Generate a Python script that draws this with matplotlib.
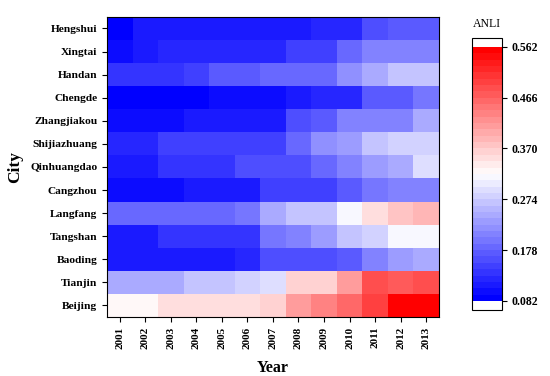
#
# anli_heatmap.py
#   - ANLI by city and year, drawn as a blue-white-red heatmap.
#

import numpy as np
import matplotlib
matplotlib.use("Agg")
import matplotlib.pyplot as plt
from matplotlib.colors import ListedColormap, Normalize

plt.rcParams["font.family"] = ["Liberation Serif", "DejaVu Serif"]

years = [str(y) for y in range(2001, 2014)]
cities = ["Hengshui", "Xingtai", "Handan", "Chengde", "Zhangjiakou", "Shijiazhuang",
          "Qinhuangdao", "Cangzhou", "Langfang", "Tangshan", "Baoding", "Tianjin", "Beijing"]

hengshui = [0.082, 0.110, 0.110, 0.110, 0.110, 0.116, 0.116, 0.116, 0.130, 0.130, 0.162, 0.177, 0.177]
xingtai = [0.097, 0.117, 0.127, 0.127, 0.127, 0.127, 0.127, 0.146, 0.146, 0.180, 0.210, 0.210, 0.210]
handan = [0.132, 0.132, 0.132, 0.147, 0.167, 0.167, 0.182, 0.182, 0.182, 0.225, 0.243, 0.263, 0.263]
chengde = [0.082, 0.082, 0.082, 0.082, 0.102, 0.102, 0.102, 0.117, 0.127, 0.127, 0.177, 0.177, 0.192]
zhangjiakou = [0.102, 0.102, 0.102, 0.112, 0.112, 0.112, 0.112, 0.157, 0.171, 0.202, 0.202, 0.214, 0.248]
shijiazhuang = [0.127, 0.127, 0.147, 0.147, 0.147, 0.147, 0.147, 0.182, 0.218, 0.233, 0.267, 0.282, 0.282]
qinhuangdao = [0.117, 0.117, 0.137, 0.137, 0.137, 0.157, 0.157, 0.157, 0.183, 0.212, 0.229, 0.248, 0.297]
cangzhou = [0.097, 0.097, 0.097, 0.114, 0.114, 0.114, 0.144, 0.144, 0.144, 0.172, 0.192, 0.207, 0.207]
langfang = [0.182, 0.182, 0.182, 0.182, 0.182, 0.197, 0.248, 0.267, 0.267, 0.313, 0.351, 0.372, 0.387]
tangshan = [0.117, 0.117, 0.138, 0.138, 0.138, 0.138, 0.197, 0.212, 0.233, 0.267, 0.285, 0.313, 0.313]
baoding = [0.112, 0.112, 0.112, 0.112, 0.112, 0.127, 0.157, 0.157, 0.157, 0.177, 0.210, 0.227, 0.248]
tianjin = [0.248, 0.248, 0.248, 0.263, 0.263, 0.282, 0.297, 0.366, 0.366, 0.417, 0.487, 0.467, 0.482]
beijing = [0.331, 0.331, 0.349, 0.349, 0.349, 0.349, 0.367, 0.407, 0.432, 0.462, 0.497, 0.562, 0.562]

cbar_ticks = [0.082, 0.178, 0.274, 0.370, 0.466, 0.562]


def main():
    values = np.array([hengshui, xingtai, handan, chengde, zhangjiakou, shijiazhuang,
                       qinhuangdao, cangzhou, langfang, tangshan, baoding, tianjin, beijing])

    # 40 discrete levels, white end boxes on the colour bar
    base = plt.get_cmap("bwr")
    cmap = ListedColormap(base(np.linspace(0, 1, 40))).with_extremes(over="white", under="white")
    norm = Normalize(vmin=cbar_ticks[0], vmax=cbar_ticks[-1])

    fig = plt.figure(figsize=(5.5, 3.76), dpi=100)
    ax = fig.add_axes([0.1945, 0.157, 0.6035, 0.798])
    cax = fig.add_axes([0.858, 0.176, 0.0545, 0.723])

    mesh = ax.pcolormesh(np.arange(len(years) + 1), np.arange(len(cities) + 1), values,
                         cmap=cmap, norm=norm)
    ax.set_xlim(0, len(years))
    ax.set_ylim(len(cities), 0)

    ax.set_xticks(np.arange(len(years)) + 0.5)
    ax.set_xticklabels(years, rotation=90, fontsize=8, fontweight="bold")
    ax.set_yticks(np.arange(len(cities)) + 0.5)
    ax.set_yticklabels(cities, fontsize=8.2, fontweight="bold")
    ax.tick_params(direction="out", length=3.5, width=0.8)
    ax.set_xlabel("Year", fontsize=11.5, fontweight="bold", labelpad=8)
    ax.set_ylabel("City", fontsize=12.5, fontweight="bold", labelpad=5)
    for sp in ax.spines.values():
        sp.set_linewidth(0.8)

    cb = fig.colorbar(mesh, cax=cax, extend="both", extendrect=True, extendfrac=0.035)
    cb.set_ticks(cbar_ticks)
    cb.set_ticklabels(["{:.3f}".format(t) for t in cbar_ticks])
    cb.ax.tick_params(labelsize=8.5, length=3.5, width=0.8)
    for lbl in cb.ax.get_yticklabels():
        lbl.set_fontweight("bold")
    cb.outline.set_linewidth(0.8)
    cb.ax.set_title("ANLI", fontsize=8.5, pad=8)

    fig.savefig("out.png", dpi=100)


if __name__ == '__main__':
    main()
